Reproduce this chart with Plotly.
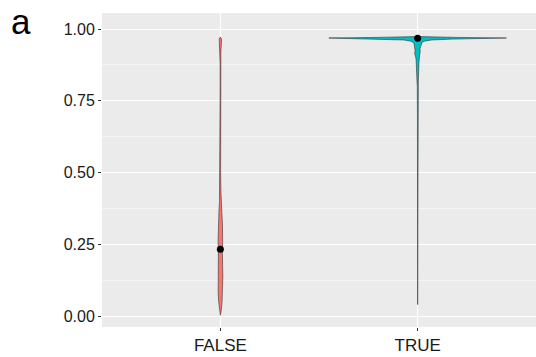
import plotly.graph_objects as go

# Group labels and their positions on the x axis
groups = ["FALSE", "TRUE"]
group_pos = [1, 2]

# Density profiles (value, relative density) for each group
false_vals = [0.003, 0.02, 0.05, 0.08, 0.11, 0.14, 0.17, 0.20, 0.23, 0.26, 0.29, 0.32,
              0.36, 0.40, 0.44, 0.50, 0.60, 0.70, 0.80, 0.88, 0.92, 0.95, 0.965, 0.972]
false_dens = [0.0, 0.9, 1.7, 2.2, 2.5, 2.5, 2.3, 2.0, 2.0, 2.3, 2.4, 2.1,
              1.5, 0.9, 0.5, 0.25, 0.2, 0.2, 0.2, 0.25, 0.5, 1.0, 1.2, 0.0]

true_vals = [0.04, 0.06, 0.10, 0.20, 0.30, 0.40, 0.50, 0.60, 0.70, 0.80, 0.82, 0.84,
             0.86, 0.87, 0.88, 0.89, 0.90, 0.908, 0.916, 0.925, 0.932, 0.94, 0.948,
             0.954, 0.958, 0.962, 0.965, 0.967, 0.969, 0.971, 0.974]
true_dens = [0.0, 0.1, 0.12, 0.15, 0.18, 0.15, 0.2, 0.18, 0.2, 0.35, 0.7, 0.9,
             0.8, 0.9, 1.3, 1.5, 1.8, 2.2, 3.0, 2.6, 2.4, 3.0, 3.5,
             4.5, 7.0, 14.0, 35.0, 70.0, 89.5, 40.0, 0.0]

# Medians shown as points
medians = [0.233, 0.968]

fill_colors = ["#F8766D", "#00BFC4"]
max_half_width = 0.45

peak = max(max(false_dens), max(true_dens))
profiles = [(false_vals, false_dens), (true_vals, true_dens)]

fig = go.Figure()

for pos, (vals, dens), col in zip(group_pos, profiles, fill_colors):
    hw = [d / peak * max_half_width for d in dens]
    xs = [pos + w for w in hw] + [pos - w for w in reversed(hw)]
    ys = list(vals) + list(reversed(vals))
    fig.add_trace(go.Scatter(
        x=xs, y=ys, mode="lines", fill="toself", fillcolor=col,
        line=dict(color="#333333", width=0.6), hoverinfo="skip", showlegend=False,
    ))

fig.add_trace(go.Scatter(
    x=group_pos, y=medians, mode="markers",
    marker=dict(color="black", size=7), showlegend=False,
))

fig.add_annotation(
    text="a", xref="paper", yref="paper", x=-0.186, y=0.972,
    xanchor="center", yanchor="middle", showarrow=False,
    font=dict(size=35, color="black", family="Liberation Sans, Arial"),
)

fig.update_layout(
    width=536, height=357,
    margin=dict(l=102, r=0, t=13, b=30),
    paper_bgcolor="white", plot_bgcolor="#EBEBEB",
    font=dict(family="Liberation Sans, Arial", color="#1a1a1a"),
)

fig.update_xaxes(
    range=[0.4, 2.6], tickvals=group_pos, ticktext=groups,
    showgrid=True, gridcolor="white", gridwidth=1.1, zeroline=False,
    ticks="outside", ticklen=3, tickcolor="#333333", tickwidth=1,
    tickfont=dict(size=17, color="#1a1a1a"), showline=False,
)

fig.update_yaxes(
    range=[-0.038, 1.056], tickvals=[0, 0.25, 0.5, 0.75, 1.0],
    ticktext=["0.00", "0.25", "0.50", "0.75", "1.00"],
    showgrid=True, gridcolor="white", gridwidth=1.1, zeroline=False,
    ticks="outside", ticklen=3, tickcolor="#333333", tickwidth=1,
    tickfont=dict(size=16, color="#1a1a1a"), showline=False,
    minor=dict(tickvals=[0.125, 0.375, 0.625, 0.875], showgrid=True,
               gridcolor="#F4F4F4", gridwidth=0.6, ticks=""),
)

fig.write_html("out.html")
